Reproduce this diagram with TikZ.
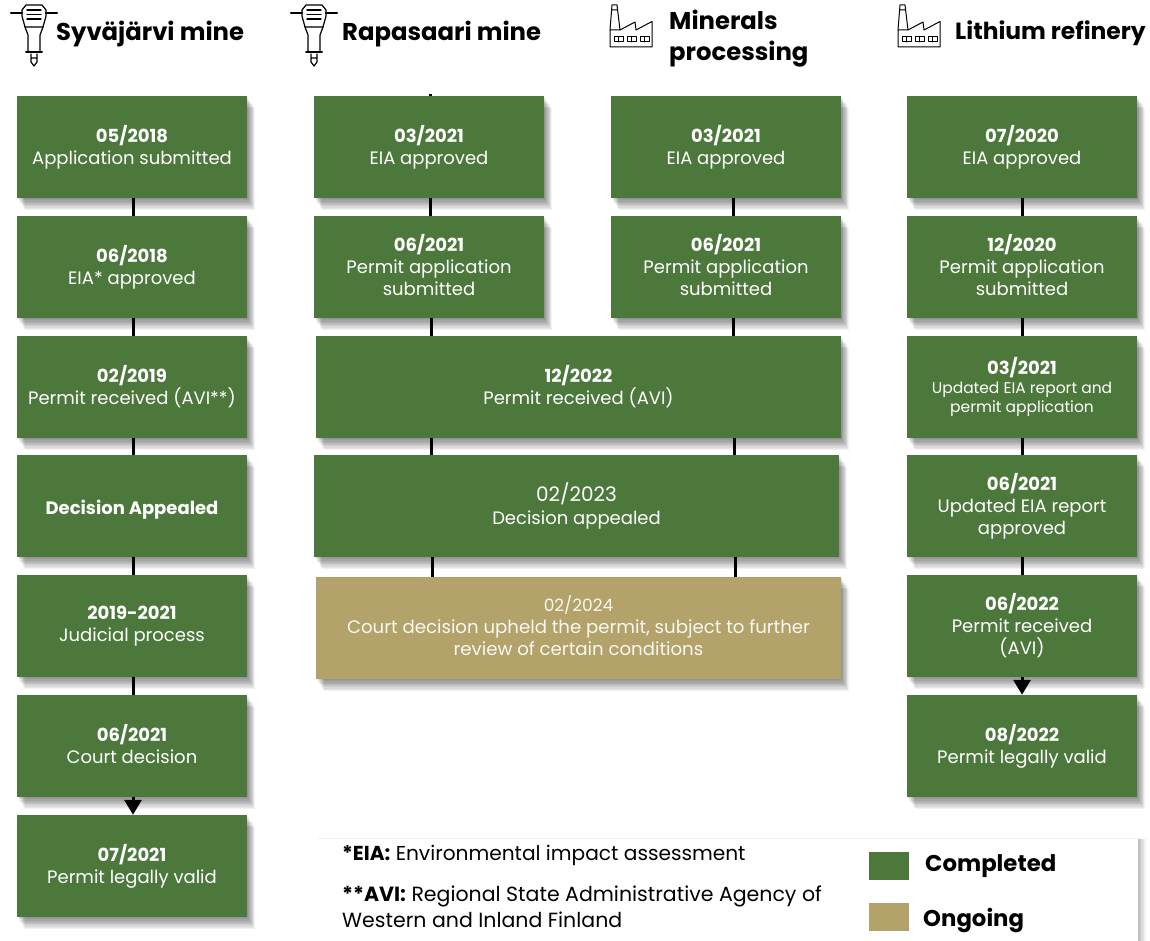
\documentclass[tikz,border=0pt]{standalone}
\usepackage{fontspec}
\setmainfont{Poppins}
\usetikzlibrary{shadows,arrows.meta}
\definecolor{grn}{HTML}{4C783C}
\definecolor{tan}{HTML}{B3A269}
\tikzset{
  softlayer/.style args={#1/#2}{general shadow={shadow xshift=#1pt,shadow yshift=-#2pt,fill=black,draw=none,opacity=.05}},
  softshadow/.style={softlayer=0.8/1.2,softlayer=1.6/2.4,softlayer=2.4/3.6,softlayer=3.2/4.8,softlayer=4/6,softlayer=4.8/7.2,softlayer=5.6/8.4,softlayer=6.4/9.6,softlayer=7.2/10.8,softlayer=8/12},
  panellayer/.style args={#1/#2}{general shadow={shadow xshift=#1pt,shadow yshift=#2pt,fill=black,draw=none,opacity=.05}},
  panelshadow/.style={panellayer=1.5/1.5,panellayer=3/0,panellayer=4.5/0,panellayer=6/0,panellayer=7.5/0},
  box/.style={fill=grn,minimum width=230pt,minimum height=102pt,inner sep=0pt,text=white,align=center,softshadow,font=\fontsize{18}{22}\selectfont,
    execute at begin node={\rule{0pt}{21pt}},execute at end node={\rule[-5pt]{0pt}{5pt}}},
  wide/.style={box,minimum width=525pt},
  ongoing/.style={wide,fill=tan,text=white!92!tan},
  conn/.style={draw=black,line width=3pt},
  arrowconn/.style={conn,-{Triangle[length=15pt,width=17pt]}},
  title/.style={anchor=west,inner sep=0pt,text=black,align=left,font=\fontsize{24.3}{31}\selectfont\bfseries},
  note/.style={anchor=west,inner sep=0pt,text=black,align=left,font=\fontsize{20.15}{26}\selectfont},
  legtext/.style={anchor=west,inner sep=0pt,text=black,font=\fontsize{22.8}{24}\selectfont\bfseries},
  swatch/.style={minimum width=40pt,minimum height=28pt,inner sep=0pt},
  icon/.style={draw=black,line width=1.2pt,line join=round,line cap=round}
}
\newcommand{\hammer}[1]{%
\begin{scope}[shift={(#1,0)}]
 \draw[icon,line width=2.2pt] (11,13) -- (22,13) (46,13) -- (57,13);
 \draw[icon] (26,5) -- (42,5) -- (46,10) -- (46,16) -- (43,27) -- (25,27) -- (22,16) -- (22,10) -- cycle;
 \draw[icon,line width=1.4pt] (27,10) -- (41,10) (27,14.5) -- (41,14.5) (27,19) -- (41,19);
 \draw[icon] (25,27) -- (28,35) -- (28,52) (43,27) -- (40,35) -- (40,52);
 \draw[icon,line width=2pt] (26,52.5) -- (42,52.5);
 \draw[icon] (31,54) -- (31,62) -- (34,66) -- (37,62) -- (37,54) (32,58) -- (36,58);
\end{scope}}
\newcommand{\factory}[1]{%
\begin{scope}[shift={(#1,0)}]
 \draw[icon,line width=1pt] (898,47) -- (898,30) -- (908,30) -- (923,22) -- (924,30) -- (940,21.5) -- (940,47) -- cycle;
 \draw[icon,line width=1pt] (898,30) -- (900,5) -- (905,5) -- (908,30) (899.6,10) -- (905.6,10);
 \foreach \wx in {902,915,928}{
  \draw[icon,line width=1pt] (\wx,37) rectangle ++(9.5,5) (\wx+4.75,37) -- ++(0,5);
 }
\end{scope}}
\begin{document}
\begin{tikzpicture}[x=1pt,y=-1pt]
\clip (0,0) rectangle (1150,941);
\fill[white] (0,0) rectangle (1150,941);
% legend panel
\node[fill=white,minimum width=822pt,minimum height=130pt,inner sep=0pt,panelshadow] (panel) at (727,904) {};
% titles
\hammer{0}
\hammer{280}
\factory{-288}
\factory{0}
\node[title] (t1) at (56,34) {Syväjärvi mine};
\node[title] (t2) at (342,34) {Rapasaari mine};
\node[title] (t3) at (669,39) {Minerals\\processing};
\node[title,font=\fontsize{23.4}{31}\selectfont\bfseries] (t4) at (955,33) {Lithium refinery};
% column 1
\node[box] (a1) at (132,147) {\textbf{05/2018}\\Application submitted};
\node[box] (a2) at (132,267) {\textbf{06/2018}\\EIA* approved};
\node[box] (a3) at (132,387) {\textbf{02/2019}\\Permit received (AVI**)};
\node[box] (a4) at (132,506) {\textbf{Decision Appealed}};
\node[box] (a5) at (132,626) {\textbf{2019-2021}\\Judicial process};
\node[box] (a6) at (132,746) {\textbf{06/2021}\\Court decision};
\node[box] (a7) at (132,866) {\textbf{07/2021}\\Permit legally valid};
% column 2
\node[box] (b1) at (429,147) {\textbf{03/2021}\\EIA approved};
\node[box] (b2) at (429,267) {\textbf{06/2021}\\Permit application\\submitted};
% column 3
\node[box] (c1) at (726,147) {\textbf{03/2021}\\EIA approved};
\node[box] (c2) at (726,267) {\textbf{06/2021}\\Permit application\\submitted};
% shared boxes
\node[wide] (w1) at (578.5,387) {\textbf{12/2022}\\Permit received (AVI)};
\node[wide,font=\fontsize{18}{23}\selectfont] (w2) at (576.5,506) {{\fontsize{20}{23}\selectfont 02/2023}\\Decision appealed};
\node[ongoing,font=\fontsize{18.15}{22}\selectfont] (w3) at (578.5,628) {{\fontsize{17}{22}\selectfont 02/2024}\\Court decision upheld the permit, subject to further\\review of certain conditions};
% column 4
\node[box] (d1) at (1022,147) {\textbf{07/2020}\\EIA approved};
\node[box] (d2) at (1022,267) {\textbf{12/2020}\\Permit application\\submitted};
\node[box] (d3) at (1022,387) {\textbf{03/2021}\\[-3pt]{\fontsize{15.5}{19}\selectfont Updated EIA report and}\\[-3pt]{\fontsize{15.5}{19}\selectfont permit application}};
\node[box] (d4) at (1022,506) {\textbf{06/2021}\\Updated EIA report\\approved};
\node[box] (d5) at (1022,626) {\textbf{06/2022}\\Permit received\\(AVI)};
\node[box] (d6) at (1022,746) {\textbf{08/2022}\\Permit legally valid};
% connectors column 1
\foreach \p/\q in {a1/a2,a2/a3,a3/a4,a4/a5,a5/a6}
  \draw[conn] ([xshift=1pt]\p.south) -- ([xshift=1pt]\q.north);
\draw[arrowconn] ([xshift=1pt]a6.south) -- ([xshift=1pt]a7.north);
% connectors columns 2, 3
\draw[conn] ([xshift=1pt]b1.north) -- ++(0,-2);
\draw[conn] ([xshift=1pt]b1.south) -- ([xshift=1pt]b2.north);
\draw[conn] ([xshift=7.5pt]c1.south) -- ([xshift=7.5pt]c2.north);
\draw[conn] ([xshift=2pt]b2.south) -- ([xshift=2pt]b2.south |- w1.north);
\draw[conn] ([xshift=7.5pt]c2.south) -- ([xshift=7.5pt]c2.south |- w1.north);
\draw[conn] ([xshift=-147pt]w1.south) -- ([xshift=-145pt]w2.north);
\draw[conn] ([xshift=156pt]w1.south) -- ([xshift=158pt]w2.north);
\draw[conn] ([xshift=-144.5pt]w2.south) -- ([xshift=-146.5pt]w3.north);
\draw[conn] ([xshift=159pt]w2.south) -- ([xshift=157pt]w3.north);
% connectors column 4
\foreach \p/\q in {d1/d2,d2/d3,d3/d4,d4/d5}
  \draw[conn] (\p.south) -- (\q.north);
\draw[arrowconn] (d5.south) -- (d6.north);
% notes and legend
\node[note] (n1) at (342,855) {\textbf{*EIA:} Environmental impact assessment};
\node[note,font=\fontsize{20.5}{26}\selectfont] (n2) at (342,907) {\textbf{**AVI:} Regional State Administrative Agency of\\Western and Inland Finland};
\node[swatch,fill=grn] (s1) at (889,866) {};
\node[swatch,fill=tan] (s2) at (889,917) {};
\node[legtext] (l1) at (925,866) {Completed};
\node[legtext] (l2) at (923,920) {Ongoing};
\end{tikzpicture}
\end{document}
